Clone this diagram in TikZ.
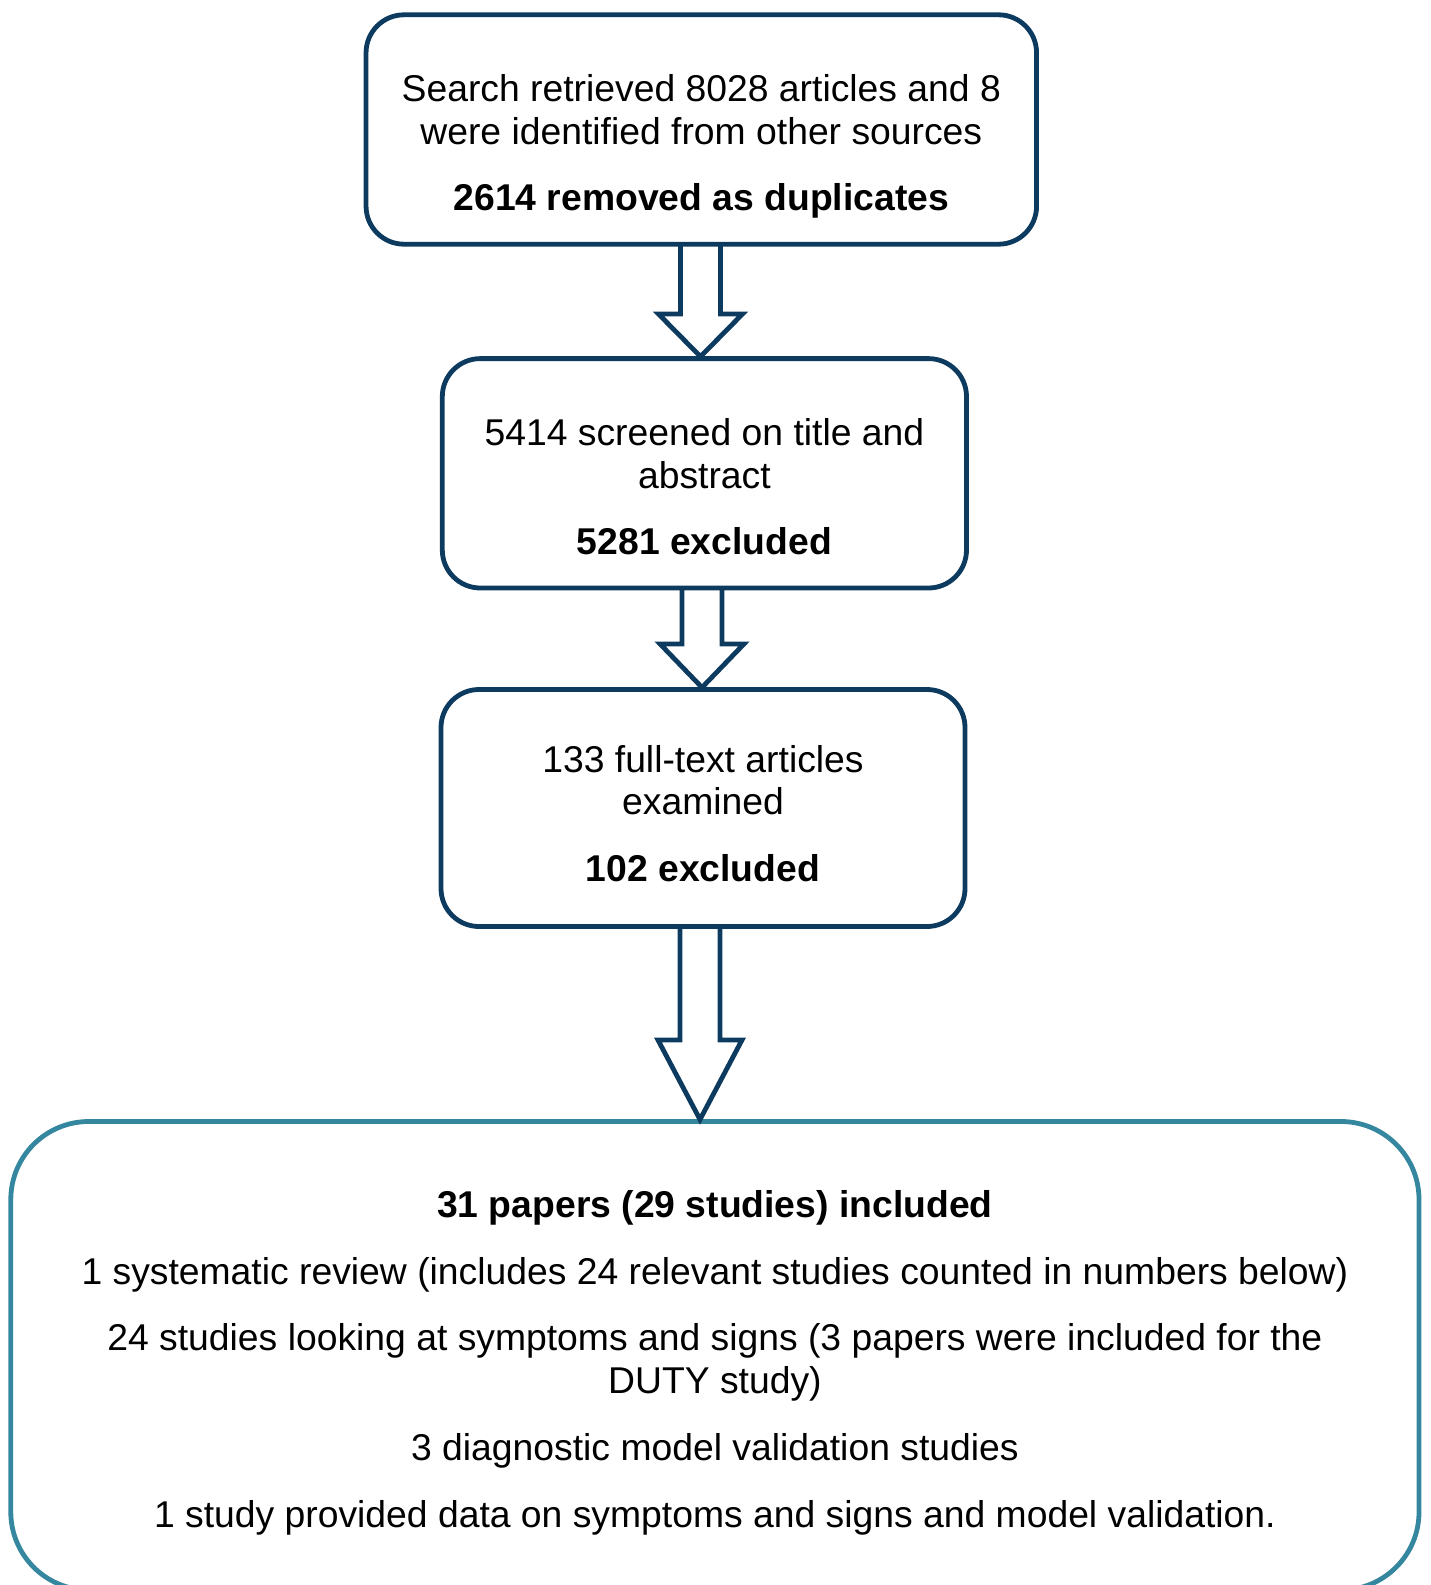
\documentclass[tikz,border=0pt]{standalone}
\usepackage{fontspec}
\setmainfont{Liberation Sans}
\usetikzlibrary{calc}
\definecolor{navy}{HTML}{0D3B60}
\definecolor{tealb}{HTML}{35879F}
\tikzset{
  flowbox/.style={draw=navy, line width=4.8pt, rounded corners=38pt, inner sep=0pt, outer sep=0pt,
    align=center, text=black, font=\fontsize{37.3}{42.8}\selectfont},
  bigbox/.style={flowbox, draw=tealb, rounded corners=78pt},
  blockarrow/.style={draw=navy, line width=4.8pt, line join=miter},
}
% #1 source node, #2 target node, #3 head length, #4 x offset
\newcommand{\blockarr}[4]{%
  \draw[blockarrow] let \p1=(#1.south), \p2=(#2.north) in
    (\x1+#4-20pt,\y1) -- (\x1+#4-20pt,\y2+2pt+#3) -- (\x1+#4-42pt,\y2+2pt+#3)
    -- (\x1+#4,\y2+2pt) -- (\x1+#4+42pt,\y2+2pt+#3) -- (\x1+#4+20pt,\y2+2pt+#3)
    -- (\x1+#4+20pt,\y1);}
\begin{document}
\begin{tikzpicture}[x=1pt,y=-1pt]
\useasboundingbox (0,0) rectangle (1430,1585);
\node[flowbox, minimum width=670.5pt, minimum height=229.4pt] (b1) at (701.3,129.5)
  {\rule{0pt}{63.2pt}Search retrieved 8028 articles and 8\\were identified from other sources\\[24pt]\textbf{2614 removed as duplicates}\rule[-10pt]{0pt}{10pt}};
\node[flowbox, minimum width=524.2pt, minimum height=229.4pt] (b2) at (704.4,473.3)
  {\rule{0pt}{63.6pt}5414 screened on title and\\abstract\\[24pt]\textbf{5281 excluded}\rule[-10pt]{0pt}{10pt}};
\node[flowbox, minimum width=524pt, minimum height=237pt] (b3) at (703,808)
  {\rule{0pt}{47.6pt}133 full-text articles\\examined\\[24pt]\textbf{102 excluded}\rule[-10pt]{0pt}{10pt}};
\node[bigbox, minimum width=1408.2pt, minimum height=468.5pt] (b4) at (714.9,1355.75)
  {\rule{0pt}{43pt}\textbf{31 papers (29 studies) included}\\[24pt]1 systematic review (includes 24 relevant studies counted in numbers below)\\[24pt]24 studies looking at symptoms and signs (3 papers were included for the\\DUTY study)\\[24pt]3 diagnostic model validation studies\\[24pt]1 study provided data on symptoms and signs and model validation.\rule[-10pt]{0pt}{10pt}};
\blockarr{b1}{b2}{42.6pt}{-0.8pt}
\blockarr{b2}{b3}{43.6pt}{-2.4pt}
\blockarr{b3}{b4}{79.5pt}{-3pt}
\end{tikzpicture}
\end{document}
